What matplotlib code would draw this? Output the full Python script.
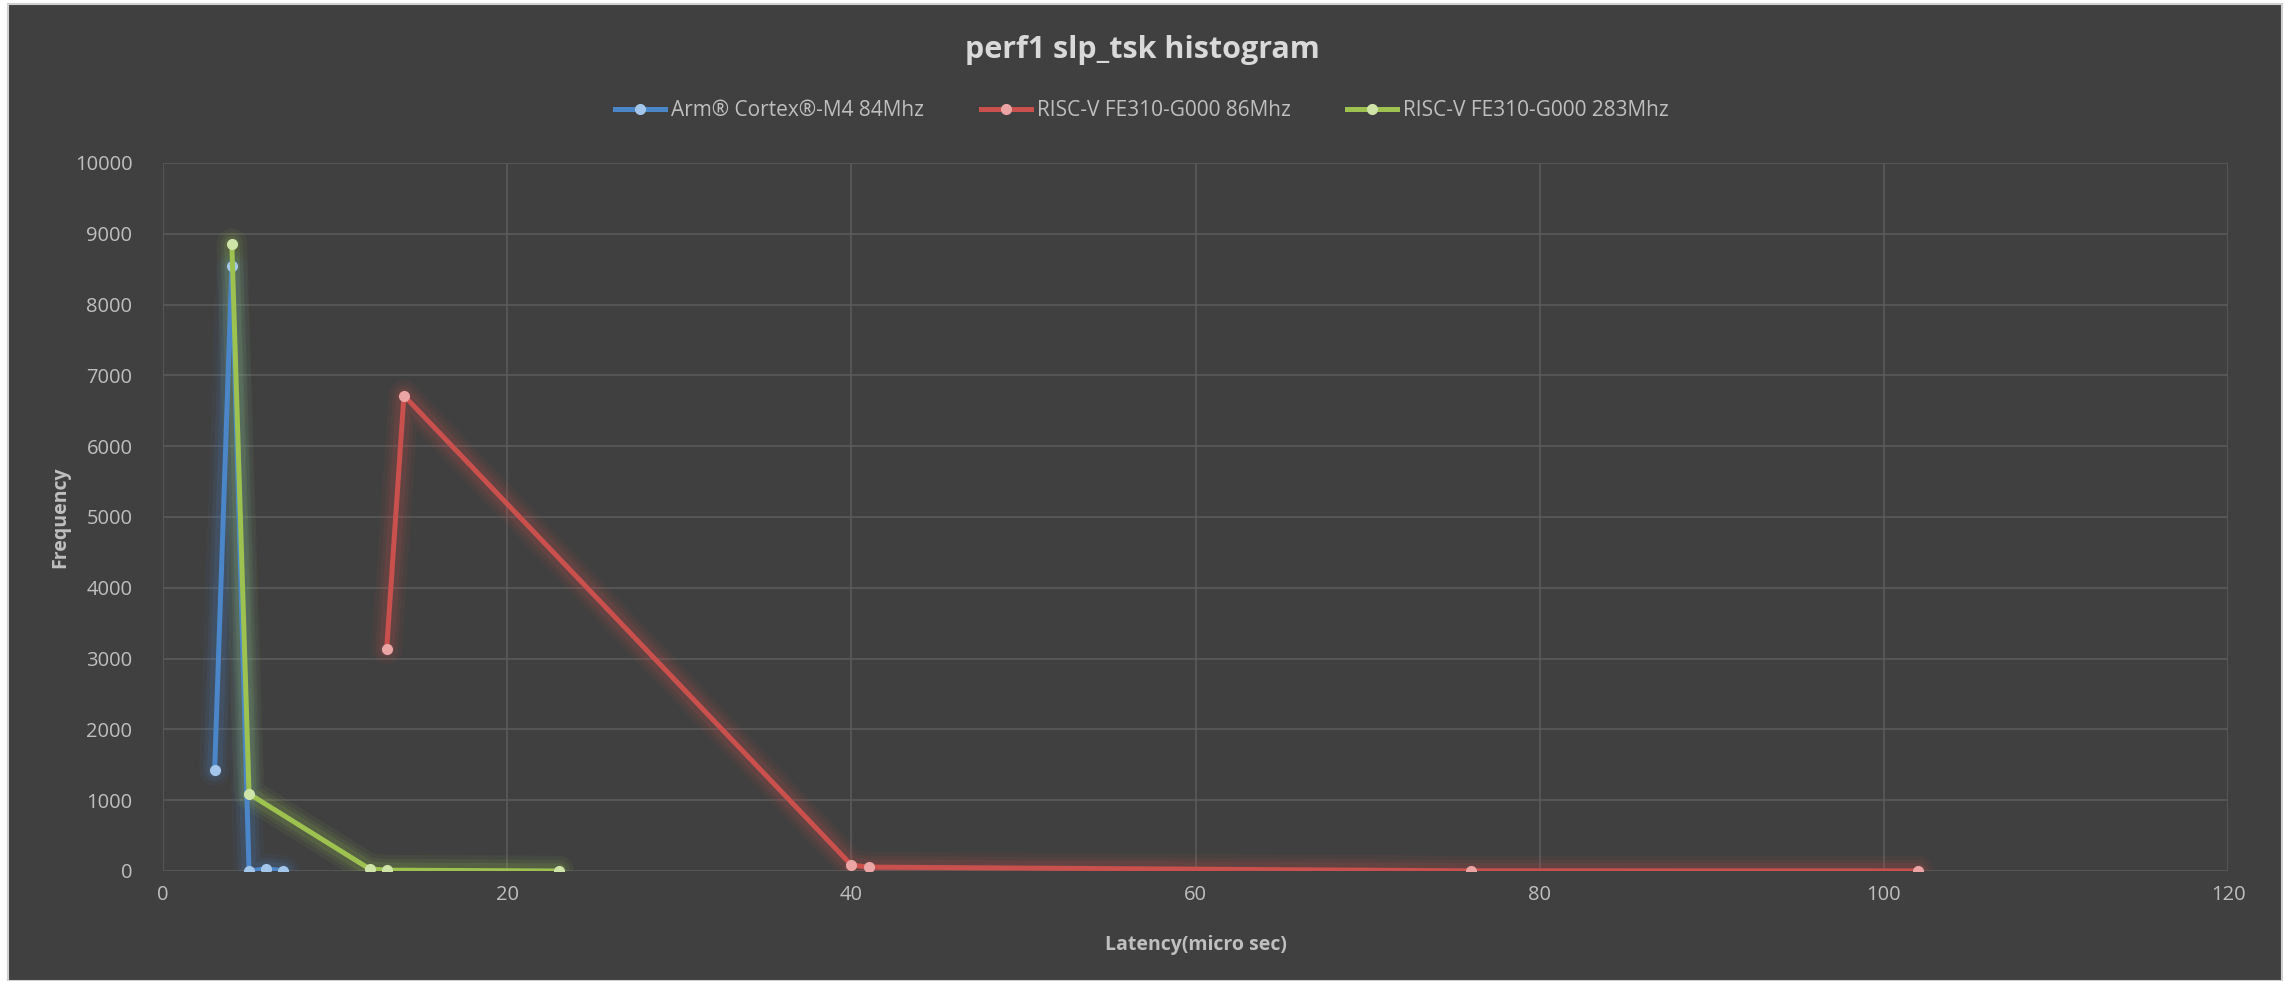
import matplotlib.pyplot as plt
from matplotlib.patches import Rectangle
from matplotlib.lines import Line2D

plt.rcParams['font.family'] = ['Open Sans', 'DejaVu Sans']

# latency (micro sec) vs frequency for each core
arm_x = [3, 4, 5, 6, 7]
arm_y = [1420, 8545, 0, 30, 5]

rv86_x = [13, 14, 40, 41, 76, 102]
rv86_y = [3140, 6715, 85, 55, 2, 1]

rv283_x = [4, 5, 12, 13, 23]
rv283_y = [8860, 1090, 30, 12, 0]

series = [
    ('Arm\u00ae Cortex\u00ae-M4 84Mhz', arm_x, arm_y, '#4a86c8', '#a4c6ea'),
    ('RISC-V FE310-G000 86Mhz', rv86_x, rv86_y, '#c9504c', '#eba5a5'),
    ('RISC-V FE310-G000 283Mhz', rv283_x, rv283_y, '#9dc24f', '#cfe4a8'),
]

bg = '#404040'
txt = '#bfbfbf'
grid_c = '#5a5a5a'

fig = plt.figure(figsize=(22.85, 9.81), dpi=100)
fig.patch.set_facecolor('#ffffff')
fig.patches.append(Rectangle((8 / 2285, 0), (2282 - 8) / 2285, 1 - 4 / 981,
                             transform=fig.transFigure, facecolor=bg,
                             edgecolor='#d0d0d0', linewidth=1.5, zorder=-10))

ax = fig.add_axes([163 / 2285, 1 - 871 / 981, (2228 - 163) / 2285, (871 - 163) / 981])
ax.set_facecolor(bg)

for name, xs, ys, col, light in series:
    # soft glow under each line
    for lw, a in [(22, 0.07), (16, 0.09), (11, 0.12)]:
        ax.plot(xs, ys, color=col, lw=lw, alpha=a, solid_capstyle='round',
                solid_joinstyle='round', zorder=2)
    ax.plot(xs, ys, color=col, lw=3.6, solid_joinstyle='round', zorder=3,
            marker='o', markersize=7, markerfacecolor=light,
            markeredgecolor=light, label=name)

ax.set_xlim(0, 120)
ax.set_ylim(0, 10000)
ax.set_xticks(range(0, 121, 20))
ax.set_yticks(range(0, 10001, 1000))
ax.grid(True, color=grid_c, lw=1.2)
ax.set_axisbelow(True)
for s in ax.spines.values():
    s.set_visible(False)
ax.tick_params(length=0, colors=txt, labelsize=14.5, pad=10)
ax.tick_params(axis='y', pad=22)

ax.set_xlabel('Latency(micro sec)', color=txt, fontsize=14, fontweight='bold', labelpad=22)
ax.set_ylabel('Frequency', color=txt, fontsize=14, fontweight='bold', labelpad=0)
ax.yaxis.set_label_coords(-(163 - 70) / (2228 - 163), 0.5)

fig.text(1142 / 2285, 1 - 50 / 981, 'perf1 slp_tsk histogram', ha='center', va='center',
         color='#d9d9d9', fontsize=22, fontweight='bold')

handles = [Line2D([], [], color=c, lw=3.6, marker='o', markersize=7,
                  markerfacecolor=l, markeredgecolor=l) for _, _, _, c, l in series]
leg = fig.legend(handles, [s[0] for s in series], loc='center',
                 bbox_to_anchor=(1142 / 2285, 1 - 111 / 981), ncol=3, frameon=False,
                 fontsize=15, labelcolor=txt, handlelength=2.4, handletextpad=0.3,
                 columnspacing=2.7)

fig.savefig('out.png', dpi=100, facecolor=fig.get_facecolor())
